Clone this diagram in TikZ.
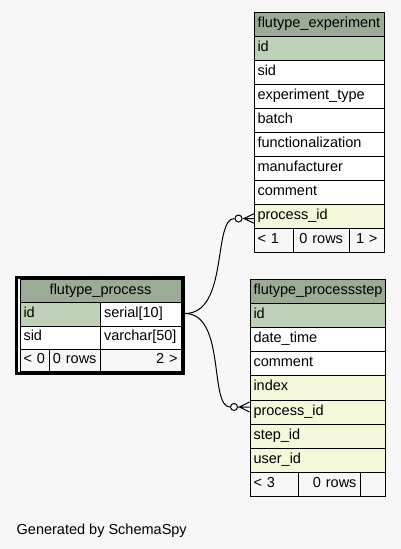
\documentclass[tikz,border=0pt]{standalone}
\usepackage{fontspec}
\setmainfont{Liberation Sans}
\usepackage{tikz}
\definecolor{bggray}{HTML}{F7F7F7}
\definecolor{hdrgreen}{HTML}{9BAB96}
\definecolor{pkgreen}{HTML}{BED1B8}
\definecolor{fkyellow}{HTML}{F4F7DA}
\tikzset{
	cell/.style={draw, line width=1pt, fill=white, anchor=north west, inner xsep=3.5pt, inner ysep=0pt,
		minimum height=24pt, text height=10pt, text depth=4pt, align=left, font=\fontsize{14.5}{16}\selectfont},
	head/.style={cell, fill=hdrgreen, align=center},
	pk/.style={cell, fill=pkgreen},
	fk/.style={cell, fill=fkyellow},
	foot/.style={cell, fill=bggray},
	odot/.style={circle, draw, line width=1pt, fill=white, inner sep=0pt, minimum size=7pt},
	link/.style={line width=1pt},
}

\begin{document}
\begin{tikzpicture}[x=1pt, y=-1pt]
	% Background and bounding box:
	\fill[bggray] (0, 0) rectangle (401, 549);
	% Table flutype_experiment:
	\node[head, text width=123pt](e-head) at (253.5, 11.5){flutype\_experiment};
	\node[pk, text width=123pt](e-id) at (253.5, 35.5){id};
	\node[cell, text width=123pt](e-sid) at (253.5, 59.5){sid};
	\node[cell, text width=123pt](e-type) at (253.5, 83.5){experiment\_type};
	\node[cell, text width=123pt](e-batch) at (253.5, 107.5){batch};
	\node[cell, text width=123pt](e-func) at (253.5, 131.5){functionalization};
	\node[cell, text width=123pt](e-manu) at (253.5, 155.5){manufacturer};
	\node[cell, text width=123pt](e-comm) at (253.5, 179.5){comment};
	\node[fk, text width=123pt](e-pid) at (253.5, 203.5){process\_id};
	\node[foot, text width=32pt](e-f1) at (253.5, 227.5){< 1};
	\node[foot, text width=49.5pt, align=center](e-f2) at (292.5, 227.5){0 rows};
	\node[foot, text width=27.5pt, align=center](e-f3) at (349, 227.5){1 >};
	% Table flutype_process:
	\node[head, text width=154pt, minimum height=23pt](p-head) at (19.5, 279){flutype\_process};
	\node[pk, text width=73.5pt, minimum height=23.5pt](p-id) at (19.5, 302){id};
	\node[cell, text width=73.5pt, minimum height=23.5pt](p-idtype) at (100, 302){serial[10]};
	\node[cell, text width=73.5pt, minimum height=23.5pt](p-sid) at (19.5, 325.5){sid};
	\node[cell, text width=73.5pt, minimum height=23.5pt](p-sidtype) at (100, 325.5){varchar[50]};
	\node[foot, text width=22pt, minimum height=22pt](p-f1) at (19.5, 349){< 0};
	\node[foot, text width=44.5pt, minimum height=22pt, align=center](p-f2) at (48.5, 349){0 rows};
	\node[foot, text width=73.5pt, minimum height=22pt, align=right](p-f3) at (100, 349){2 >};
	\node[draw, line width=3pt, minimum width=166.5pt, minimum height=96.5pt](p-frame) at (99.75, 325.25){};
	% Table flutype_processstep:
	\node[head, text width=128.5pt, minimum height=24.2pt](s-head) at (249.5, 278.5){flutype\_processstep};
	\node[pk, text width=128.5pt, minimum height=24.2pt](s-id) at (249.5, 302.7){id};
	\node[cell, text width=128.5pt, minimum height=24.2pt](s-date) at (249.5, 326.9){date\_time};
	\node[cell, text width=128.5pt, minimum height=24.2pt](s-comm) at (249.5, 351.1){comment};
	\node[fk, text width=128.5pt, minimum height=24.2pt](s-index) at (249.5, 375.3){index};
	\node[fk, text width=128.5pt, minimum height=24.2pt](s-pid) at (249.5, 399.5){process\_id};
	\node[fk, text width=128.5pt, minimum height=24.2pt](s-step) at (249.5, 423.7){step\_id};
	\node[fk, text width=128.5pt, minimum height=24.2pt](s-user) at (249.5, 447.9){user\_id};
	\node[foot, text width=41pt, minimum height=24.2pt](s-f1) at (249.5, 472.1){< 3};
	\node[foot, text width=55pt, minimum height=24.2pt, align=right](s-f2) at (297.5, 472.1){0 rows};
	\node[foot, text width=18.5pt, minimum height=24.2pt](s-f3) at (359.5, 472.1){};
	% Relations:
	\coordinate (p-port) at (185, 313.5);
	\node[odot](e-dot) at (238.5, 218.5){};
	\node[odot](s-dot) at (234, 407){};
	\draw[link] (p-port) .. controls (229, 313.5) and (212.5, 218.5) .. (e-dot);
	\draw[link] (p-port) .. controls (226, 313.5) and (209, 407) .. (s-dot);
	\draw[link] (e-dot.east) -- ++(1.5, 0) coordinate (e-crow) -- ++(10.5, -5) (e-crow) -- ++(10.5, 0) (e-crow) -- ++(10.5, 5);
	\draw[link] (s-dot.east) -- ++(1.5, 0) coordinate (s-crow) -- ++(10, -5) (s-crow) -- ++(10, 0) (s-crow) -- ++(10, 5);
	% Footer text:
	\node[anchor=base west, inner sep=0pt, font=\fontsize{14.5}{16}\selectfont](gen) at (16.5, 534){Generated by SchemaSpy};
\end{tikzpicture}
\end{document}
